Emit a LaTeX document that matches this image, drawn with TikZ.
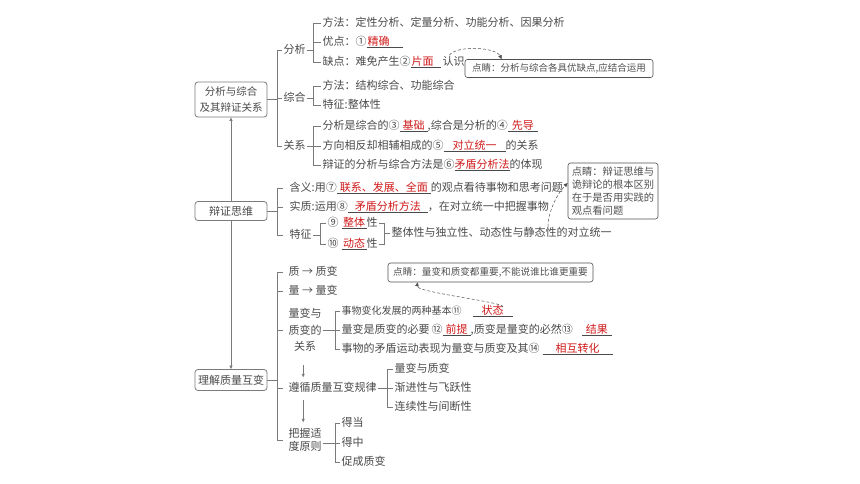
\documentclass[tikz,border=0pt]{standalone}
\usepackage{fontspec}
\setmainfont{Noto Sans CJK SC}
\usetikzlibrary{arrows.meta,calc}
\definecolor{txtc}{HTML}{4A4A4A}
\definecolor{lnc}{HTML}{7A7A7A}
\definecolor{ansc}{HTML}{D01A1A}
\definecolor{notec}{HTML}{505050}
\newcommand{\fillin}[3][c]{\underline{\makebox[#2][#1]{\textcolor{ansc}{#3}}}}
\newcommand{\cn}[2][11pt]{\makebox[#1][c]{#2}}
\tikzset{
  t/.style={anchor=west, inner sep=1.5pt, text=txtc, font=\fontsize{11}{13}\selectfont, text height=8.5pt, text depth=2pt},
  tm/.style={anchor=west, inner sep=1.5pt, text=txtc, align=center},
  mb/.style={draw=lnc, rounded corners=3pt, line width=0.8pt, fill=white, text=txtc, font=\fontsize{10.5}{15.5}\selectfont, align=center, minimum width=72pt, inner sep=0pt},
  br/.style={draw=lnc, line width=0.7pt},
  note/.style={draw=notec, rounded corners=2.5pt, line width=0.6pt, fill=white, text=notec, align=left, inner sep=0pt},
  dsh/.style={draw=notec, densely dashed, line width=0.5pt, -{Triangle[length=4pt,width=3.5pt]}},
  arr/.style={draw=lnc, line width=0.7pt, -{Triangle[length=3.5pt,width=3pt]}},
  darr/.style={draw=lnc, line width=0.7pt, {Triangle[length=3.5pt,width=3pt]}-{Triangle[length=3.5pt,width=3pt]}},
}
\begin{document}
\begin{tikzpicture}[x=1pt,y=-1pt]
\useasboundingbox[fill=white] (0,0) rectangle (860,484);

% main boxes and spine
\node[mb, minimum height=35pt] (b1) at (231,99.5) {分析与综合\\及其辩证关系};
\node[mb, minimum height=21pt, font=\fontsize{11}{13}\selectfont] (b3) at (231,380) {理解质量互变};
\draw[darr] (b1) -- (b3);
\node[mb, minimum height=19pt, font=\fontsize{11}{13}\selectfont] (b2) at (231,211) {辩证思维};

% ---------- block 1 ----------
\node[t] (fx) at (282,50) {分析};
\node[t] (zh) at (282,98) {综合};
\node[t] (gx) at (282,146) {关系};
\draw[br] (b1.east) -- ++(10,0);
\draw[br] (fx.west) -- ++(-5,0) |- (gx.west);
\draw[br] (zh.west) -- ++(-5,0);

\node[t] (a1) at (321,23.3) {方法：定性分析、定量分析、功能分析、因果分析};
\node[t] (a2) at (321,42) {优点：\cn{①}\fillin[l]{36pt}{\hspace{1pt}精确}};
\node[t] (a3) at (321,62) {缺点：难免产生\cn{②}\fillin[l]{30pt}{\hspace{1pt}片面}\hspace{2pt}认识};
\draw[br] (fx.east) -- ++(6,0);
\draw[br] (a1.west) -- ++(-8,0) |- (a3.west);
\draw[br] (a2.west) -- ++(-8,0);

\node[t] (c1) at (321,86) {方法：结构综合、功能综合};
\node[t] (c2) at (321,105) {特征:整体性};
\draw[br] (zh.east) -- ++(6,0);
\draw[br] (c1.west) -- ++(-8,0) |- (c2.west);

\node[t] (d1) at (321,126) {分析是综合的\cn{③}\fillin{28pt}{基础},综合是分析的\cn{④}\fillin{30pt}{先导}};
\node[t] (d2) at (321,146) {方向相反却相辅相成的\cn{⑤}\fillin{62pt}{对立统一}的关系};
\node[t] (d3) at (321,165) {辩证的分析与综合方法是\cn{⑥}\fillin{55pt}{矛盾分析法}的体现};
\draw[br] (gx.east) -- ++(6,0);
\draw[br] (d1.west) -- ++(-8,0) |- (d3.west);
\draw[br] (d2.west) -- ++(-8,0);

% ---------- block 2 ----------
\node[t] (e1) at (288,188) {含义:用\cn{⑦}\fillin{94pt}{联系、发展、全面}的观点看待事物和思考问题};
\node[t] (e2) at (288,207) {实质:运用\cn{⑧}\fillin{80pt}{矛盾分析方法}，在对立统一中把握事物};
\node[t] (e3) at (288,235) {特征};
\draw[br] (b2.east) -- ++(10,0);
\draw[br] ([xshift=-5pt]e1.west) -- ++(-6,0) |- ([xshift=-5pt]e3.west);
\draw[br] ([xshift=-5pt]e2.west) -- ++(-6,0);

\node[t] (f1) at (326,223) {\cn{⑨}\hspace{3pt}\fillin{25pt}{整体}性};
\node[t] (f2) at (326,244) {\cn{⑩}\hspace{3pt}\fillin{25pt}{动态}性};
\draw[br] (e3.east) -- ++(7,0);
\draw[br] (f1.west) -- ++(-6,0) |- (f2.west);
\draw[br] (f1.east) -- ++(5,0) |- (f2.east);
\node[t] (g1) at (390,233.5) {整体性与独立性、动态性与静态性的对立统一};
\draw[br] (g1.west) -- ++(-6,0);

% ---------- block 3 ----------
\node[t] (h1) at (287,272) {质 → 质变};
\node[t] (h2) at (287,291.7) {量 → 量变};
\node[tm, font=\fontsize{11}{16.5}\selectfont] (h3) at (287,330) {量变与\\质变的\\关系};
\node[t] (h4) at (287,388) {遵循质量互变规律};
\node[tm, font=\fontsize{11}{13.5}\selectfont] (h5) at (287,440) {把握适\\度原则};
\draw[br] (b3.east) -- ++(10,0);
\draw[br] ([xshift=-4pt]h1.west) -- ++(-6,0) |- ([xshift=-4pt]h5.west);
\foreach \n in {h2,h3,h4} \draw[br] ([xshift=-4pt]\n.west) -- ++(-6,0);

\draw[arr] ($(h3.south)+(-2,12)$) -- ($(h3.south)+(-2,24)$);
\draw[arr] ($(h3.south)+(-2,47)$) -- ($(h3.south)+(-2,69)$);

\node[t] (i1) at (340,311) {{\fontsize{10}{12}\selectfont 事物变化发展的两种基本\cn[10pt]{⑪}}\hspace{11pt}\fillin{40pt}{状态}};
\node[t] (i2) at (340,330) {量变是质变的必要\hspace{2pt}\cn{⑫}\fillin{28pt}{前提},质变是量变的必然\cn{⑬}\hspace{9pt}\fillin{30pt}{结果}};
\node[t] (i3) at (340,349) {事物的矛盾运动表现为量变与质变及其\cn{⑭}\hspace{3pt}\fillin{70pt}{相互转化}};
\draw[br] (h3.east) -- ++(12,0);
\draw[br] (i1.west) -- ++(-5,0) |- (i3.west);
\draw[br] (i2.west) -- ++(-5,0);

\node[t] (j1) at (393,369) {量变与质变};
\node[t] (j2) at (393,388) {渐进性与飞跃性};
\node[t] (j3) at (393,407) {连续性与间断性};
\draw[br] (h4.east) -- ++(9,0);
\draw[br] (j1.west) -- ++(-6,0) |- (j3.west);
\draw[br] (j2.west) -- ++(-6,0);

\node[t] (k1) at (340,423) {得当};
\node[t] (k2) at (340,443) {得中};
\node[t] (k3) at (340,462) {促成质变};
\draw[br] (k1.west) -- ++(-5,0) |- (k3.west);
\draw[br] (k2.west) -- (h5.east |- k2.west);

% ---------- notes ----------
\node[note, minimum width=188pt, minimum height=18pt, font=\fontsize{9.5}{11}\selectfont] (n1) at (559,68.5) {点睛：分析与综合各具优缺点,应结合运用};
\draw[dsh] ([xshift=-17pt]a3.north east) .. controls +(8,-10) and +(-6,-12) .. ([xshift=37pt]n1.north west);

\node[note, minimum width=90pt, minimum height=56pt, font=\fontsize{10.3}{13}\selectfont] (n2) at (613,191) {点睛：辩证思维与\\诡辩论的根本区别\\在于是否用实践的\\观点看问题};
\draw[dsh] ([xshift=158pt]g1.north west) .. controls +(0,-15) and +(-10,10) .. ([yshift=8pt]n2.west);

\node[note, minimum width=205pt, minimum height=19pt, font=\fontsize{9.6}{11}\selectfont] (n3) at (490.5,272.5) {点睛：量变和质变都重要,不能说谁比谁更重要};
\draw[dsh] ([xshift=-12pt,yshift=-3pt]i1.north east) .. controls +(8,-4) and +(-2,10) .. ([xshift=30pt]n3.south west);
\end{tikzpicture}
\end{document}
